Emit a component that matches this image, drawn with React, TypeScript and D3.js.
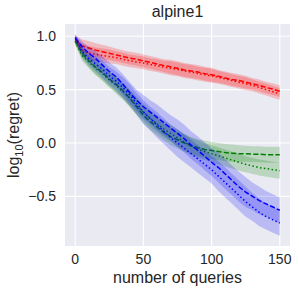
import * as d3 from "d3"

// x positions of the recorded points (number of queries)
const queries = [
  0, 5, 10, 15, 20, 25, 30, 35, 40, 45, 50, 55, 60, 65, 70, 75, 80, 85, 90, 95, 100, 105, 110, 115, 120, 125, 130,
  135, 140, 145, 150,
]

const redDashed = [
  0.97, 0.91, 0.89, 0.87, 0.855, 0.84, 0.825, 0.81, 0.795, 0.785, 0.77, 0.755, 0.74, 0.725, 0.715, 0.7, 0.685, 0.675,
  0.665, 0.65, 0.64, 0.625, 0.61, 0.595, 0.585, 0.57, 0.555, 0.54, 0.52, 0.505, 0.485,
]
const redDotted = [
  0.96, 0.87, 0.845, 0.83, 0.82, 0.81, 0.8, 0.785, 0.77, 0.76, 0.75, 0.735, 0.725, 0.71, 0.7, 0.69, 0.675, 0.665, 0.65,
  0.64, 0.63, 0.615, 0.6, 0.585, 0.57, 0.555, 0.54, 0.52, 0.5, 0.48, 0.46,
]
const greenDashed = [
  0.96, 0.84, 0.77, 0.71, 0.66, 0.6, 0.55, 0.49, 0.42, 0.34, 0.26, 0.2, 0.15, 0.1, 0.06, 0.03, 0.0, -0.025, -0.045,
  -0.06, -0.07, -0.08, -0.09, -0.095, -0.1, -0.1, -0.105, -0.105, -0.11, -0.11, -0.11,
]
const greenDotted = [
  0.95, 0.82, 0.76, 0.7, 0.65, 0.59, 0.54, 0.48, 0.42, 0.35, 0.29, 0.23, 0.18, 0.13, 0.09, 0.05, 0.01, -0.03, -0.06,
  -0.08, -0.1, -0.12, -0.14, -0.16, -0.18, -0.2, -0.215, -0.23, -0.24, -0.25, -0.26,
]
const blueDashed = [
  0.99, 0.9, 0.84, 0.79, 0.73, 0.67, 0.62, 0.55, 0.47, 0.4, 0.34, 0.29, 0.24, 0.19, 0.14, 0.09, 0.04, -0.02, -0.07,
  -0.125, -0.18, -0.23, -0.29, -0.35, -0.41, -0.46, -0.5, -0.54, -0.57, -0.6, -0.63,
]
const blueDotted = [
  0.98, 0.86, 0.79, 0.74, 0.69, 0.63, 0.58, 0.52, 0.45, 0.37, 0.29, 0.23, 0.17, 0.11, 0.05, 0.0, -0.05, -0.1, -0.15,
  -0.2, -0.25, -0.31, -0.37, -0.43, -0.49, -0.55, -0.6, -0.65, -0.69, -0.72, -0.75,
]

// half width of the shaded band around each curve
const redSpread = [
  0.04, 0.06, 0.065, 0.065, 0.065, 0.065, 0.06, 0.06, 0.06, 0.06, 0.06, 0.06, 0.06, 0.06, 0.065, 0.065, 0.065, 0.065,
  0.065, 0.065, 0.065, 0.06, 0.06, 0.06, 0.06, 0.06, 0.055, 0.055, 0.055, 0.055, 0.055,
]
const greenSpread = [
  0.03, 0.05, 0.06, 0.065, 0.07, 0.07, 0.075, 0.075, 0.08, 0.08, 0.08, 0.08, 0.08, 0.08, 0.08, 0.08, 0.08, 0.08, 0.08,
  0.08, 0.08, 0.08, 0.08, 0.08, 0.08, 0.075, 0.075, 0.075, 0.075, 0.075, 0.075,
]
const blueSpread = [
  0.03, 0.05, 0.06, 0.07, 0.08, 0.085, 0.09, 0.095, 0.1, 0.1, 0.11, 0.11, 0.12, 0.12, 0.12, 0.13, 0.13, 0.13, 0.13,
  0.13, 0.13, 0.14, 0.14, 0.14, 0.14, 0.14, 0.13, 0.13, 0.12, 0.12, 0.12,
]

const xTicks = [0, 50, 100, 150]
const yTicks = [1.0, 0.5, 0.0, -0.5]

const series = [
  { name: "red dashed", values: redDashed, spread: redSpread, color: "#ff0000", dash: "5.2,2.2" },
  { name: "red dotted", values: redDotted, spread: redSpread, color: "#ff0000", dash: "1.5,2.4" },
  { name: "green dashed", values: greenDashed, spread: greenSpread, color: "#008000", dash: "5.2,2.2" },
  { name: "green dotted", values: greenDotted, spread: greenSpread, color: "#008000", dash: "1.5,2.4" },
  { name: "blue dashed", values: blueDashed, spread: blueSpread, color: "#0000ff", dash: "5.2,2.2" },
  { name: "blue dotted", values: blueDotted, spread: blueSpread, color: "#0000ff", dash: "1.5,2.4" },
]

const width = 299
const height = 293
const margin = { top: 24, right: 9, bottom: 47, left: 65 }
const font = "'Liberation Sans', Arial, sans-serif"
const textColor = "#262626"

export default function App() {
  const innerWidth = width - margin.left - margin.right
  const innerHeight = height - margin.top - margin.bottom

  const x = d3.scaleLinear().domain([-7.5, 157.5]).range([0, innerWidth])
  const y = d3.scaleLinear().domain([-0.965, 1.115]).range([innerHeight, 0])

  const line = d3
    .line<number>()
    .x((_, i) => x(queries[i]))
    .y((d) => y(d))

  return (
    <svg
      width={width}
      height={height}
      style={{ position: "fixed", left: 0, top: 0, background: "#fff" }}
      fontFamily={font}
    >
      <g transform={`translate(${margin.left},${margin.top})`}>
        <rect width={innerWidth} height={innerHeight} fill="#eaeaf2" />
        {xTicks.map((t) => (
          <line key={`gx${t}`} x1={x(t)} x2={x(t)} y1={0} y2={innerHeight} stroke="#fff" strokeWidth={1.1} />
        ))}
        {yTicks.map((t) => (
          <line key={`gy${t}`} x1={0} x2={innerWidth} y1={y(t)} y2={y(t)} stroke="#fff" strokeWidth={1.1} />
        ))}

        {series.map((s) => {
          const area = d3
            .area<number>()
            .x((_, i) => x(queries[i]))
            .y0((d, i) => y(d - s.spread[i]))
            .y1((d, i) => y(d + s.spread[i]))
          return (
            <g key={s.name}>
              <path d={area(s.values) ?? ""} fill={s.color} fillOpacity={0.2} stroke="none" />
              <path
                d={line(s.values) ?? ""}
                fill="none"
                stroke={s.color}
                strokeWidth={1.5}
                strokeDasharray={s.dash}
              />
            </g>
          )
        })}

        {xTicks.map((t) => (
          <text key={`tx${t}`} x={x(t)} y={innerHeight + 18} textAnchor="middle" fontSize={14} fill={textColor}>
            {t}
          </text>
        ))}
        {yTicks.map((t) => (
          <text
            key={`ty${t}`}
            x={-9}
            y={y(t)}
            dy="0.35em"
            textAnchor="end"
            fontSize={14}
            fill={textColor}
          >
            {d3.format(".1f")(t).replace("-", "\u2212")}
          </text>
        ))}

        <text x={innerWidth / 2} y={-7} textAnchor="middle" fontSize={16} fill={textColor}>
          alpine1
        </text>
        <text x={innerWidth / 2} y={innerHeight + 37} textAnchor="middle" fontSize={16} fill={textColor}>
          number of queries
        </text>
        <text
          transform={`translate(${19 - margin.left},${innerHeight / 2}) rotate(-90)`}
          textAnchor="middle"
          fontSize={16}
          fill={textColor}
        >
          log
          <tspan fontSize={11} dy={4}>
            10
          </tspan>
          <tspan dy={-4}>(regret)</tspan>
        </text>
      </g>
    </svg>
  )
}
